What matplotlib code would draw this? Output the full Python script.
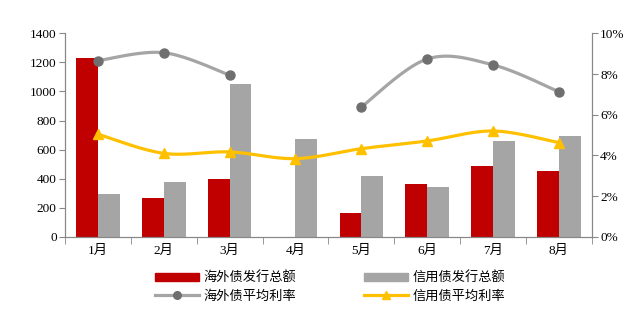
import numpy as np
import matplotlib.pyplot as plt
from matplotlib.lines import Line2D
from matplotlib.patches import Patch

plt.rcParams['font.family'] = ['Liberation Serif', 'Noto Sans CJK SC']

months = ['1月', '2月', '3月', '4月', '5月', '6月', '7月', '8月']
overseas_amt = [1230, 266, 395, 0, 165, 363, 486, 452]
credit_amt = [293, 376, 1051, 672, 418, 342, 659, 693]
overseas_rate = [8.66, 9.05, 7.95, np.nan, 6.38, 8.74, 8.45, 7.13]
credit_rate = [5.04, 4.10, 4.17, 3.84, 4.33, 4.71, 5.20, 4.63]

RED = '#C00000'
GRAY = '#A5A5A5'
DARK = '#6F6F6F'
YELLOW = '#FFC000'
SPINE = '#888888'


def smooth(xs, ys, n=30):
    # Catmull-Rom style smoothing like Excel's "smoothed line"
    xs = np.asarray(xs, float)
    ys = np.asarray(ys, float)
    px, py = [], []
    for i in range(len(xs) - 1):
        p0 = (xs[max(i - 1, 0)], ys[max(i - 1, 0)])
        p1 = (xs[i], ys[i])
        p2 = (xs[i + 1], ys[i + 1])
        p3 = (xs[min(i + 2, len(xs) - 1)], ys[min(i + 2, len(xs) - 1)])
        c1 = (p1[0] + (p2[0] - p0[0]) / 6, p1[1] + (p2[1] - p0[1]) / 6)
        c2 = (p2[0] - (p3[0] - p1[0]) / 6, p2[1] - (p3[1] - p1[1]) / 6)
        t = np.linspace(0, 1, n)
        bx = (1 - t) ** 3 * p1[0] + 3 * (1 - t) ** 2 * t * c1[0] + 3 * (1 - t) * t ** 2 * c2[0] + t ** 3 * p2[0]
        by = (1 - t) ** 3 * p1[1] + 3 * (1 - t) ** 2 * t * c1[1] + 3 * (1 - t) * t ** 2 * c2[1] + t ** 3 * p2[1]
        px.extend(bx)
        py.extend(by)
    return px, py


fig = plt.figure(figsize=(6.35, 3.12), dpi=100)
ax = fig.add_axes([0.1024, 0.2413, 0.8296, 0.6517])
ax2 = ax.twinx()

x = np.arange(len(months))
w = 0.33
ax.bar(x - w / 2, overseas_amt, w, color=RED, zorder=2)
ax.bar(x + w / 2, credit_amt, w, color=GRAY, zorder=2)

ax.set_xlim(-0.5, len(months) - 0.5)
ax.set_ylim(0, 1400)
ax.set_yticks(range(0, 1401, 200))
ax2.set_ylim(0, 10)
ax2.set_yticks(range(0, 11, 2))
ax2.set_yticklabels([f'{v}%' for v in range(0, 11, 2)])

# overseas rate: two segments split by missing April
orate = np.array(overseas_rate)
valid = ~np.isnan(orate)
seg = []
for i in range(len(x)):
    if valid[i]:
        seg.append(i)
    if (not valid[i] or i == len(x) - 1) and seg:
        sx, sy = smooth(x[seg], orate[seg])
        ax2.plot(sx, sy, color=GRAY, lw=2.3, zorder=3, solid_capstyle='round')
        seg = []
ax2.plot(x[valid], orate[valid], 'o', color=DARK, ms=6.5, zorder=4)

cx, cy = smooth(x, credit_rate)
ax2.plot(cx, cy, color=YELLOW, lw=2.3, zorder=3)
ax2.plot(x, credit_rate, '^', color=YELLOW, ms=7, zorder=4)

# category boundary ticks on x axis
ax.set_xticks(x)
ax.set_xticklabels(months, fontsize=9.5)
ax.set_xticks(np.arange(-0.5, len(months), 1), minor=True)
ax.tick_params(axis='x', which='major', length=0, pad=6)
ax.tick_params(axis='x', which='minor', length=5, color=SPINE, direction='out')
ax.tick_params(axis='y', length=4, color=SPINE, labelsize=9.5, pad=2)
ax2.tick_params(axis='y', length=4, color=SPINE, labelsize=9.5, pad=2)

for a in (ax, ax2):
    a.spines['top'].set_visible(False)
    for s in ('left', 'right', 'bottom'):
        a.spines[s].set_color(SPINE)
ax2.set_zorder(ax.get_zorder() + 1)
ax2.patch.set_visible(False)

handles = [
    Patch(color=RED, label='海外债发行总额'),
    Line2D([], [], color=GRAY, lw=2.3, marker='o', mfc=DARK, mec=DARK, ms=5.5, label='海外债平均利率'),
    Patch(color=GRAY, label='信用债发行总额'),
    Line2D([], [], color=YELLOW, lw=2.3, marker='^', ms=5.5, label='信用债平均利率'),
]
fig.legend(handles=handles, ncol=2, loc='center', bbox_to_anchor=(0.520, 0.080),
           frameon=False, fontsize=9.5, columnspacing=5.15, handlelength=3.3,
           handleheight=0.55, handletextpad=0.35, labelspacing=0.45)

fig.savefig('out.png', dpi=100)
